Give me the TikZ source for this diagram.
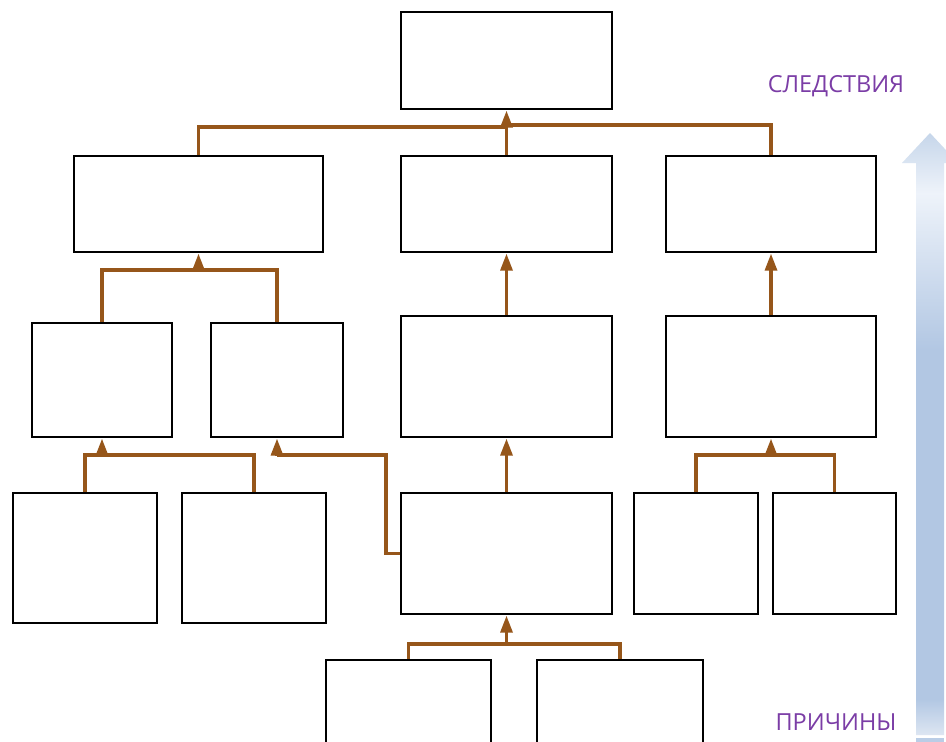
\documentclass[tikz,border=0pt]{standalone}
\usepackage{fontspec}
\newfontfamily\labelfont{Open Sans}
\usetikzlibrary{arrows.meta}
\definecolor{conncol}{HTML}{96561A}
\definecolor{labelcol}{HTML}{7B3DA6}
\definecolor{arrblue}{HTML}{B2C7E3}
\definecolor{arrlight}{HTML}{EEF3FA}
\definecolor{arrtip}{HTML}{C6D6EA}
\definecolor{arrbottom}{HTML}{DDE6F2}
\pgfdeclareverticalshading{bigarrow}{100bp}{color(0bp)=(arrbottom); color(25bp)=(arrbottom); color(28bp)=(arrblue); color(57bp)=(arrblue); color(70bp)=(arrlight); color(75bp)=(arrtip); color(100bp)=(arrtip)}
\begin{document}
\begin{tikzpicture}[x=1pt,y=-1pt,
  box/.style={draw=black, line width=1.7pt, fill=white, inner sep=0pt},
  conn/.style={draw=conncol, line width=3.2pt},
  arr/.style={draw=conncol, line width=3.2pt, -{Triangle[length=17pt,width=12pt]}, shorten >=0.8pt},
  lab/.style={font=\labelfont\fontsize{23.5}{28}\selectfont, text=labelcol}]
\clip (0,0) rectangle (946,742);
\fill[white] (0,0) rectangle (946,742);
% big shaded arrow
\shade[shading=bigarrow] (916,735) -- (916,163) -- (902,163) -- (930,133) -- (958,163) -- (944,163) -- (944,735) -- cycle;
\fill[arrblue!90!white] (916,737.5) rectangle (944,742);
% boxes
\node[box, minimum width=211, minimum height=97] (T) at (506.5,60.5) {};
\node[box, minimum width=249, minimum height=96] (A) at (198.5,204) {};
\node[box, minimum width=211, minimum height=96] (B) at (506.5,204) {};
\node[box, minimum width=210, minimum height=96] (C) at (771,204) {};
\node[box, minimum width=140, minimum height=114] (D) at (102,380) {};
\node[box, minimum width=132, minimum height=114] (E) at (277,380) {};
\node[box, minimum width=211, minimum height=121] (F) at (506.5,376.5) {};
\node[box, minimum width=210, minimum height=121] (G) at (771,376.5) {};
\node[box, minimum width=144, minimum height=130] (H) at (85,558) {};
\node[box, minimum width=144, minimum height=130] (I) at (254,558) {};
\node[box, minimum width=211, minimum height=121] (J) at (506.5,553.5) {};
\node[box, minimum width=124, minimum height=121] (K) at (696,553.5) {};
\node[box, minimum width=123, minimum height=121] (L) at (834.5,553.5) {};
\node[box, minimum width=165, minimum height=130] (M) at (408.5,725) {};
\node[box, minimum width=166, minimum height=130] (N) at (620,725) {};
% junction coordinates
\coordinate (jT1) at (506.5,127);
\coordinate (jT2) at (506.5,125);
\coordinate (jA) at (198.5,270);
\coordinate (jD) at (102,455);
\coordinate (jE) at (277,455);
\coordinate (jJw) at (386,553.5);
\coordinate (jG) at (771,455);
\coordinate (jJ) at (506.5,644);
% top level
\draw[conn] (A.north) |- (jT1);
\draw[conn] (C.north) |- (jT2);
\draw[arr] (B.north) -- (T.south);
% row 3 -> row 2
\draw[conn] (D.north) |- (jA) -| (E.north);
\draw[arr] (jA) -- (A.south);
\draw[arr] (F.north) -- (B.south);
\draw[arr] (G.north) -- (C.south);
% row 4 -> row 3
\draw[conn] (H.north) |- (jD) -| (I.north);
\draw[arr] (jD) -- (D.south);
\draw[conn] (J.west) -- (jJw) |- (jE);
\draw[arr] (jE) -- (E.south);
\draw[arr] (J.north) -- (F.south);
\draw[conn] (K.north) |- (jG) -| (L.north);
\draw[arr] (jG) -- (G.south);
% row 5 -> row 4
\draw[conn] (M.north) |- (jJ) -| (N.north);
\draw[arr] (jJ) -- (J.south);
% labels
\node[lab] (cons) at (836,86) {СЛЕДСТВИЯ};
\node[lab] (caus) at (836,722) {ПРИЧИНЫ};
\end{tikzpicture}
\end{document}
